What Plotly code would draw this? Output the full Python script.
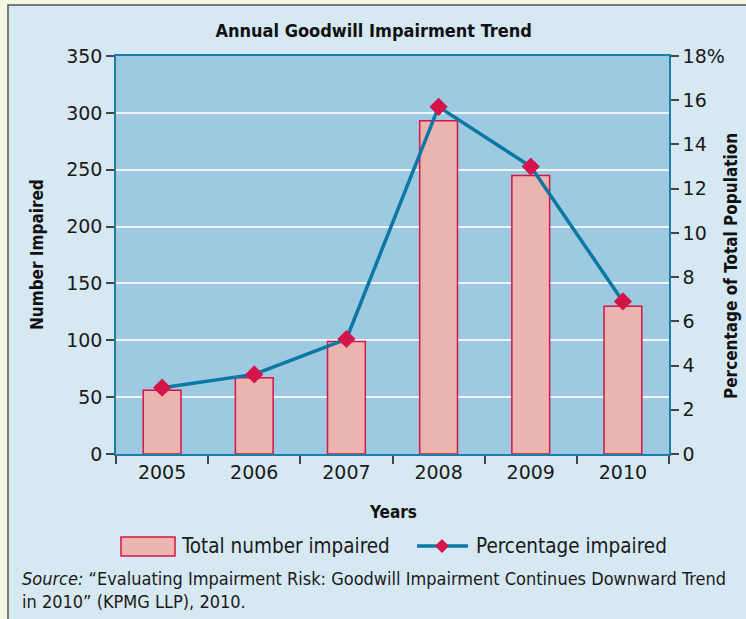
import plotly.graph_objects as go

years = ["2005", "2006", "2007", "2008", "2009", "2010"]
total_impaired = [56, 67, 99, 293, 245, 130]
pct_impaired = [3.0, 3.6, 5.2, 15.7, 13.0, 6.9]
left_ticks = [0, 50, 100, 150, 200, 250, 300, 350]
right_ticks = [0, 2, 4, 6, 8, 10, 12, 14, 16, 18]
right_ticktext = ["0", "2", "4", "6", "8", "10", "12", "14", "16", "18%"]

COND = "DejaVu Sans Condensed, Liberation Sans Narrow, sans-serif"
REG = "DejaVu Sans, sans-serif"

BAR_FILL = "#ecb4af"
CRIMSON = "#d4154a"
LINE = "#0b78a3"

W, H = 746, 619
L, R, T, B = 116, 77, 56, 165
pw, ph = W - L - R, H - T - B

def px(x):
    return (x - L) / pw

def py(y):
    return (H - B - y) / ph

fig = go.Figure()
fig.add_trace(go.Bar(
    x=years, y=total_impaired, name="Total number impaired",
    marker=dict(color=BAR_FILL, line=dict(color=CRIMSON, width=1.5)),
    width=0.41, showlegend=False,
))
fig.add_trace(go.Scatter(
    x=years, y=pct_impaired, name="Percentage impaired", yaxis="y2",
    mode="lines+markers",
    line=dict(color=LINE, width=3.5),
    marker=dict(symbol="diamond", size=14, color=CRIMSON),
    showlegend=False,
))

shapes = [
    # outer panel
    dict(type="rect", xref="paper", yref="paper", layer="below",
         x0=px(8), x1=px(760), y0=py(640), y1=py(5),
         fillcolor="#d6e8f2", line=dict(color="#555555", width=1.5)),
    # plot area
    dict(type="rect", xref="paper", yref="paper", layer="below",
         x0=0, x1=1, y0=0, y1=1, fillcolor="#9ecae1", line=dict(width=0)),
    # legend swatches
    dict(type="rect", xref="paper", yref="paper",
         x0=px(121), x1=px(175), y0=py(556), y1=py(537),
         fillcolor=BAR_FILL, line=dict(color=CRIMSON, width=1.5)),
    dict(type="line", xref="paper", yref="paper",
         x0=px(417), x1=px(468), y0=py(546), y1=py(546),
         line=dict(color=LINE, width=3.5)),
    dict(type="path", xref="paper", yref="paper",
         path=f"M {px(442)},{py(539)} L {px(449)},{py(546)} L {px(442)},{py(553)} L {px(435)},{py(546)} Z",
         fillcolor=CRIMSON, line=dict(width=0)),
]

TXT = "#1a1a1a"
annotations = [
    dict(text="<b>Number Impaired</b>", xref="paper", yref="paper", x=px(37), y=py(255),
         textangle=-90, showarrow=False, xanchor="center", yanchor="middle",
         font=dict(family=COND, size=17, color="#111111")),
    dict(text="<b>Percentage of Total Population</b>", xref="paper", yref="paper", x=px(731), y=py(266),
         textangle=-90, showarrow=False, xanchor="center", yanchor="middle",
         font=dict(family=COND, size=17, color="#111111")),
    dict(text="<b>Years</b>", xref="paper", yref="paper", x=px(393), y=py(512),
         showarrow=False, xanchor="center", yanchor="middle",
         font=dict(family=COND, size=17, color="#111111")),
    dict(text="Total number impaired", xref="paper", yref="paper", x=px(179), y=py(546),
         showarrow=False, xanchor="left", yanchor="middle",
         font=dict(family=COND, size=20.5, color=TXT)),
    dict(text="Percentage impaired", xref="paper", yref="paper", x=px(474), y=py(546),
         showarrow=False, xanchor="left", yanchor="middle",
         font=dict(family=COND, size=20.5, color=TXT)),
    dict(text="<i>Source:</i> “Evaluating Impairment Risk: Goodwill Impairment Continues Downward Trend<br>in 2010” (KPMG LLP), 2010.",
         xref="paper", yref="paper", x=px(20), y=py(566), xanchor="left", yanchor="top",
         align="left", showarrow=False, font=dict(family=COND, size=18, color=TXT)),
]

fig.update_layout(
    width=W, height=H,
    margin=dict(l=L, r=R, t=T, b=B, autoexpand=False),
    paper_bgcolor="#f2f6e3",
    plot_bgcolor="rgba(0,0,0,0)",
    showlegend=False,
    title=dict(text="<b>Annual Goodwill Impairment Trend</b>", x=px(393), xanchor="center",
               y=1 - 31 / H, yanchor="middle", font=dict(family=COND, size=18, color="#111111")),
    xaxis=dict(
        type="category", tickson="boundaries", ticks="outside", ticklen=8, tickwidth=1.5,
        tickcolor="#444444", showline=True, linecolor="#1a7fa8", linewidth=1.5, mirror=True,
        showgrid=False, automargin=False, tickfont=dict(family=REG, size=19, color=TXT),
    ),
    yaxis=dict(
        range=[0, 350], tickvals=left_ticks, ticks="outside", ticklen=8, tickwidth=1.5,
        tickcolor="#444444", showline=True, linecolor="#1a7fa8", linewidth=1.5,
        showgrid=True, gridcolor="#eef5f9", gridwidth=2, zeroline=False, automargin=False,
        tickfont=dict(family=REG, size=19, color=TXT),
    ),
    yaxis2=dict(
        range=[0, 18], overlaying="y", side="right", tickvals=right_ticks, ticktext=right_ticktext,
        ticks="outside", ticklen=8, tickwidth=1.5, tickcolor="#444444",
        showline=True, linecolor="#1a7fa8", linewidth=1.5, showgrid=False, zeroline=False,
        automargin=False, tickfont=dict(family=REG, size=19, color=TXT),
    ),
    shapes=shapes,
    annotations=annotations,
)

fig.write_html("out.html", config={"displayModeBar": False},
               post_script="document.body.style.margin='0';")
